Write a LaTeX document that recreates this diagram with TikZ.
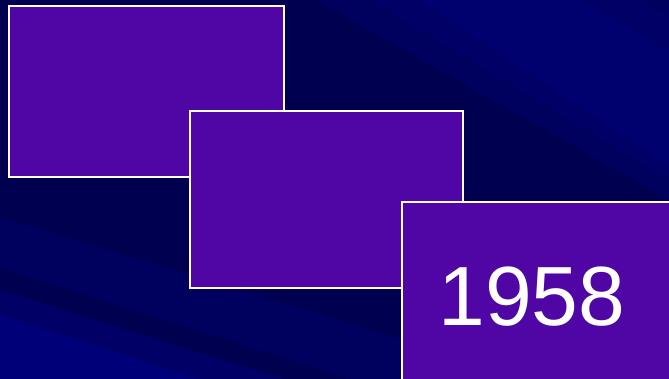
\documentclass[tikz,border=0pt]{standalone}
\usepackage{fontspec}
\setmainfont{Liberation Sans}
\definecolor{bgdark}{HTML}{000050}
\definecolor{bgmid}{HTML}{00005E}
\definecolor{bgmid2}{HTML}{000066}
\definecolor{bglight}{HTML}{00006E}
\definecolor{bglighter}{HTML}{000078}
\definecolor{boxfill}{HTML}{5005A5}
\tikzset{slide/.style={draw=white, line width=2pt, fill=boxfill}}
\begin{document}
\begin{tikzpicture}[x=1pt,y=-1pt]
\useasboundingbox (0,0) rectangle (669,379);
\clip (0,0) rectangle (669,379);
\fill[bgdark] (0,0) rectangle (669,379);
% upper right lighter streaks
\fill[bgmid] (316,0) -- (669,0) -- (669,200) -- cycle;
\fill[bgmid2] (370,0) -- (669,0) -- (669,180) -- cycle;
\fill[bglight] (420,0) -- (580,0) -- (669,50) -- (669,165) -- cycle;
\fill[bgmid] (640,0) -- (669,0) -- (669,15) -- cycle;
% lower left streaks
\fill[bgmid] (0,217) -- (669,420) -- (0,420) -- cycle;
\fill[bgdark] (0,268) -- (669,480) -- (0,480) -- cycle;
\fill[bgmid2] (0,290) -- (669,500) -- (0,500) -- cycle;
\fill[bglighter] (0,315) -- (669,530) -- (0,530) -- cycle;
% slides
\node[slide, minimum width=275pt, minimum height=171pt, inner sep=0pt, anchor=north west] (s1) at (8,5) {};
\node[slide, minimum width=273pt, minimum height=177pt, inner sep=0pt, anchor=north west] (s2) at (189,110) {};
\node[slide, minimum width=290pt, minimum height=190pt, inner sep=0pt, anchor=north west] (s3) at (401,201) {};
\node[text=white, font=\fontsize{84}{84}\selectfont, anchor=base] (year) at (532,325) {1958};
\end{tikzpicture}
\end{document}
